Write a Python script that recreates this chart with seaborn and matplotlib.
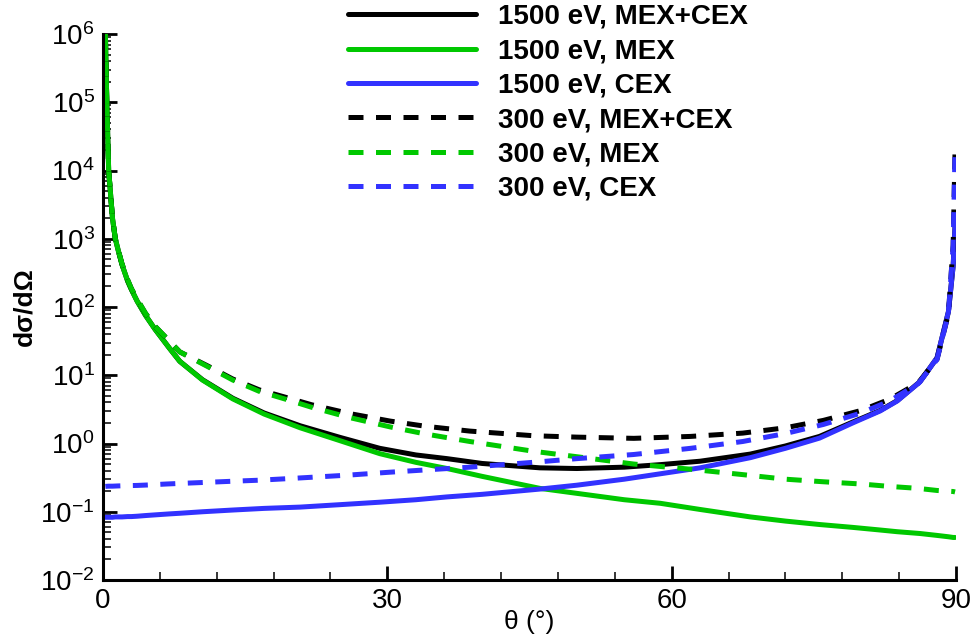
import numpy as np
import pandas as pd
import matplotlib
matplotlib.use("Agg")
import matplotlib.pyplot as plt
import seaborn as sns
from matplotlib.ticker import FixedLocator, LogLocator, MultipleLocator, NullFormatter

# ---------------- data ----------------
theta_1500 = [0.25, 0.4, 0.6, 0.9, 1.0, 1.3, 1.6, 2.0, 2.6, 3.0, 3.6, 4.5, 5.5, 7.0, 8.1,
              10.5, 13.7, 17, 20.8, 25, 29.2, 33, 36.3, 40, 46.1, 50, 55, 58.8, 63, 68.3,
              72, 75.6, 79.1, 82, 83.8, 86.2, 88, 89.2, 89.7, 89.9]
mex_1500 = [1e6, 1e5, 1e4, 3e3, 2e3, 1e3, 680, 420, 240, 180, 122, 75, 47, 25, 16,
            8.5, 4.5, 2.7, 1.7, 1.1, 0.71, 0.53, 0.43, 0.33, 0.22, 0.186, 0.15, 0.133,
            0.108, 0.084, 0.073, 0.065, 0.059, 0.054, 0.051, 0.048, 0.045, 0.043, 0.042,
            0.042]
cex_1500 = [0.083, 0.083, 0.083, 0.083, 0.083, 0.084, 0.084, 0.084, 0.085, 0.085, 0.086,
            0.088, 0.09, 0.093, 0.095, 0.1, 0.106, 0.112, 0.117, 0.127, 0.138, 0.15, 0.165,
            0.18, 0.215, 0.245, 0.3, 0.36, 0.44, 0.62, 0.85, 1.2, 2.0, 3.0, 4.2, 8, 18, 85,
            400, 1500]
tot_1500 = [1e6, 1e5, 1e4, 3e3, 2e3, 1e3, 680, 420, 240, 180, 122, 75, 47, 25, 16,
            8.6, 4.6, 2.8, 1.82, 1.23, 0.85, 0.68, 0.6, 0.51, 0.44, 0.43, 0.45, 0.49, 0.55,
            0.7, 0.92, 1.27, 2.06, 3.05, 4.25, 8.05, 18, 85, 400, 1500]

theta_300 = [0.25, 0.4, 0.6, 0.9, 1.0, 1.3, 1.6, 2.0, 2.6, 3.0, 3.6, 4.5, 5.5, 6.7, 8.1,
             11, 13.7, 16.5, 19.4, 22, 26, 30.3, 34, 38.7, 45.4, 50, 56, 62, 67.5, 72, 76,
             80, 83, 86, 88, 89.2, 89.7, 89.9]
mex_300 = [1e6, 1e5, 1e4, 3e3, 2e3, 1e3, 690, 430, 250, 185, 130, 80, 52, 35, 22,
           13.5, 8.5, 5.8, 4.4, 3.4, 2.4, 1.75, 1.38, 1.07, 0.77, 0.64, 0.5, 0.42, 0.35,
           0.3, 0.275, 0.255, 0.235, 0.22, 0.205, 0.2, 0.198, 0.195]
cex_300 = [0.235, 0.236, 0.237, 0.237, 0.237, 0.238, 0.239, 0.24, 0.241, 0.242, 0.243,
           0.246, 0.25, 0.255, 0.26, 0.27, 0.28, 0.29, 0.305, 0.32, 0.345, 0.38, 0.41,
           0.45, 0.53, 0.6, 0.69, 0.85, 1.07, 1.4, 1.9, 2.8, 4.2, 7.5, 17, 80, 800, 2e4]
tot_300 = [1e6, 1e5, 1e4, 3e3, 2e3, 1e3, 690, 430, 250, 185, 130, 80, 52, 35, 22,
           13.8, 8.8, 6.1, 4.7, 3.7, 2.75, 2.13, 1.79, 1.52, 1.3, 1.24, 1.19, 1.27, 1.42,
           1.7, 2.18, 3.05, 4.45, 7.7, 17.2, 80, 800, 2e4]

labels = ["1500 eV, MEX+CEX", "1500 eV, MEX", "1500 eV, CEX",
          "300 eV, MEX+CEX", "300 eV, MEX", "300 eV, CEX"]
x_ticks = [0, 30, 60, 90]

# ---------------- style ----------------
sns.set_style("white")
plt.rcParams['font.family'] = ['Liberation Sans', 'DejaVu Sans']
plt.rcParams['mathtext.default'] = 'regular'
plt.rcParams['axes.unicode_minus'] = False
plt.rcParams['text.color'] = 'black'
plt.rcParams['axes.labelcolor'] = 'black'

BLACK, GREEN, BLUE = "#000000", "#00C800", "#3232FF"
palette = dict(zip(labels, [BLACK, GREEN, BLUE, BLACK, GREEN, BLUE]))
dash = (3.0, 2.5)
dashes = dict(zip(labels, ["", "", "", dash, dash, dash]))

frames = []
for lab, th, val in zip(labels,
                        [theta_1500, theta_1500, theta_1500, theta_300, theta_300, theta_300],
                        [tot_1500, mex_1500, cex_1500, tot_300, mex_300, cex_300]):
    frames.append(pd.DataFrame({"theta": th, "value": val, "series": lab}))
df = pd.concat(frames, ignore_index=True)

fig = plt.figure(figsize=(9.74, 6.44), dpi=100)
ax = fig.add_axes([103 / 974, 1 - 580 / 644, (956 - 103) / 974, (580 - 34) / 644])

LW = 3.6
sns.lineplot(data=df, x="theta", y="value", hue="series", style="series",
             hue_order=labels, style_order=labels, palette=palette, dashes=dashes,
             linewidth=LW, estimator=None, sort=False, ax=ax)

ax.set_yscale("log")
ax.set_xlim(0, 90)
ax.set_ylim(1e-2, 1e6)

ax.xaxis.set_major_locator(FixedLocator(x_ticks))
ax.xaxis.set_minor_locator(MultipleLocator(6))
ax.yaxis.set_major_locator(LogLocator(base=10, numticks=20))
ax.yaxis.set_minor_locator(LogLocator(base=10, subs=np.arange(2, 10), numticks=100))
ax.yaxis.set_minor_formatter(NullFormatter())

for s in ["top", "right"]:
    ax.spines[s].set_visible(False)
for s in ["left", "bottom"]:
    ax.spines[s].set_linewidth(2.2)
    ax.spines[s].set_color("black")

ax.tick_params(which="both", bottom=True, left=True, top=False, right=False)
ax.tick_params(which="major", direction="in", length=10, width=2.0, labelsize=20,
               pad=6, colors="black")
ax.tick_params(which="minor", direction="in", length=6, width=1.1, colors="black")

ax.set_xlabel("θ (°)", fontsize=19, labelpad=-3)
ax.set_ylabel("dσ/dΩ", fontsize=19, fontweight="bold")
ax.yaxis.set_label_coords(-0.078, 0.5)

leg = ax.legend(loc="upper left", bbox_to_anchor=(348 / 974, 1 - 4 / 644),
                bbox_transform=fig.transFigure, frameon=False, borderpad=0,
                borderaxespad=0, handlelength=4.6, handletextpad=0.8,
                labelspacing=0.3, prop={"weight": "bold", "size": 20})
for h in leg.get_lines():
    h.set_linewidth(LW)

fig.savefig("out.png", dpi=100)
